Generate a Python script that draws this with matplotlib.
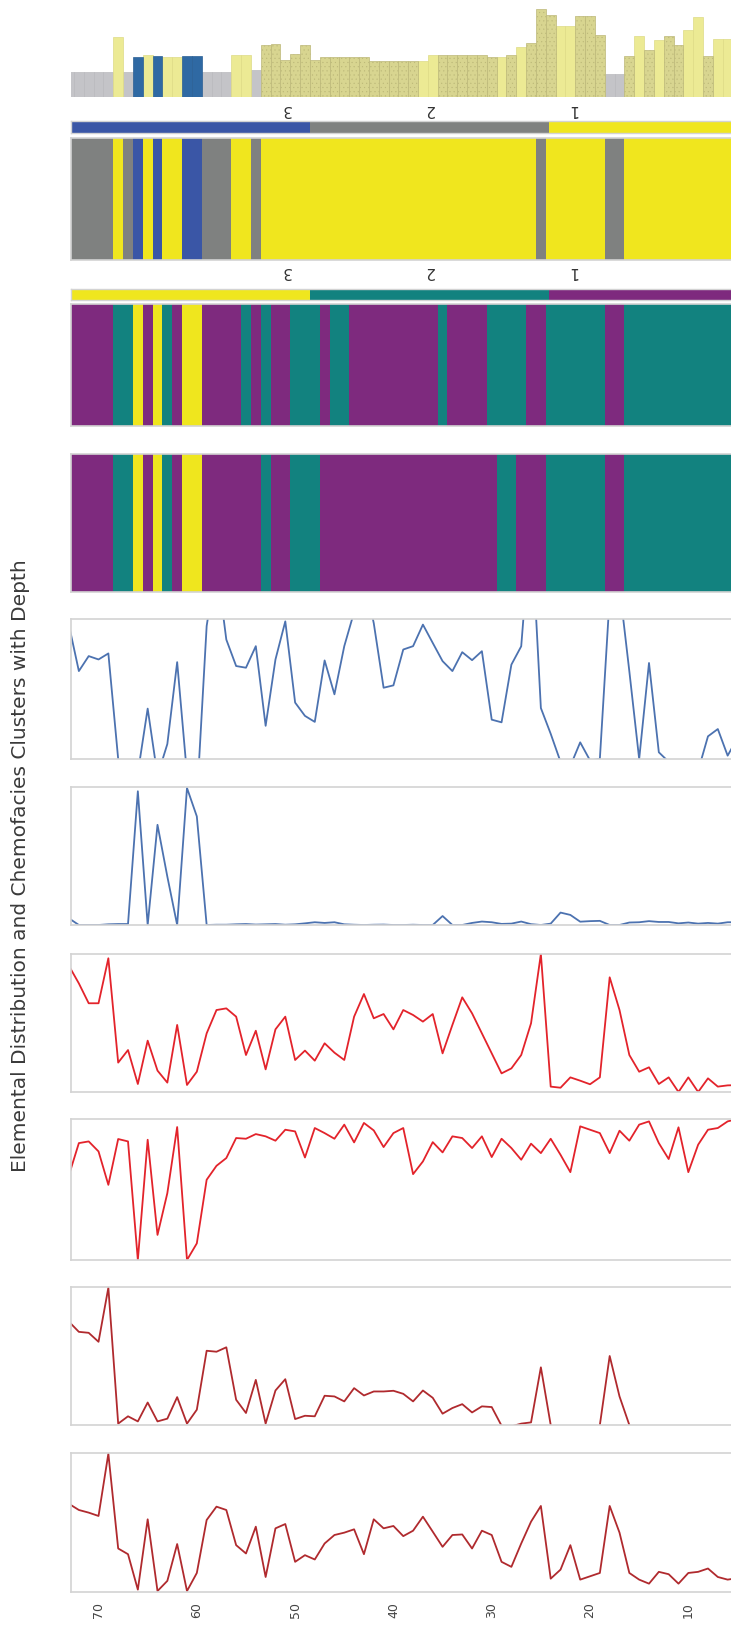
import numpy as np
import matplotlib
matplotlib.use("Agg")
import matplotlib.pyplot as plt
from matplotlib.colors import ListedColormap, Normalize

# ---------------- data (depth samples, left = deep) ----------------
depth = [73, 72, 71, 70, 69, 68, 67, 66, 65, 64, 63, 62, 61, 60, 59, 58, 57, 56, 55, 54,
         53, 52, 51, 50, 49, 48, 47, 46, 45, 44, 43, 42, 41, 40, 39, 38, 37, 36, 35, 34,
         33, 32, 31, 30, 29, 28, 27, 26, 25, 24, 23, 22, 21, 20, 19, 18, 17, 16, 15, 14,
         13, 12, 11, 10, 9, 8, 7, 6, 5]

# lithology column: type (g=grey, y=light yellow, o=olive, b=blue) and bar height
litho_type = ['g', 'g', 'g', 'g', 'g', 'y', 'g', 'b', 'y', 'b', 'y', 'y', 'b', 'b', 'g', 'g', 'g', 'y', 'y', 'g',
              'o', 'o', 'o', 'o', 'o', 'o', 'o', 'o', 'o', 'o', 'o', 'o', 'o', 'o', 'o', 'o', 'y', 'y', 'o', 'o',
              'o', 'o', 'o', 'o', 'y', 'o', 'y', 'o', 'o', 'o', 'y', 'y', 'o', 'o', 'o', 'g', 'g', 'o', 'y', 'o',
              'y', 'o', 'o', 'y', 'y', 'o', 'y', 'y', 'o']
litho_height = [25, 25, 25, 25, 25, 60, 25, 40, 42, 41, 40, 40, 41, 41, 25, 25, 25, 42, 42, 27,
                52, 53, 37, 43, 52, 37, 40, 40, 40, 40, 40, 36, 36, 36, 36, 36, 36, 42, 42, 42,
                42, 42, 42, 40, 40, 42, 50, 54, 88, 82, 71, 71, 81, 81, 62, 23, 23, 41, 61, 47,
                57, 61, 52, 67, 80, 41, 58, 58, 48]

# cluster assignments
cluster_a = [2, 2, 2, 2, 2, 1, 2, 3, 1, 3, 1, 1, 3, 3, 2, 2, 2, 1, 1, 2,
             1, 1, 1, 1, 1, 1, 1, 1, 1, 1, 1, 1, 1, 1, 1, 1, 1, 1, 1, 1,
             1, 1, 1, 1, 1, 1, 1, 1, 2, 1, 1, 1, 1, 1, 1, 2, 2, 1, 1, 1,
             1, 1, 1, 1, 1, 1, 1, 1, 1]
cluster_b = [1, 1, 1, 1, 1, 2, 2, 3, 1, 3, 2, 1, 3, 3, 1, 1, 1, 1, 2, 1,
             2, 1, 1, 2, 2, 2, 1, 2, 2, 1, 1, 1, 1, 1, 1, 1, 1, 1, 2, 1,
             1, 1, 1, 2, 2, 2, 2, 1, 1, 2, 2, 2, 2, 2, 2, 1, 1, 2, 2, 2,
             2, 2, 2, 2, 2, 2, 2, 2, 2]
cluster_c = [1, 1, 1, 1, 1, 2, 2, 3, 1, 3, 2, 1, 3, 3, 1, 1, 1, 1, 1, 1,
             2, 1, 1, 2, 2, 2, 1, 1, 1, 1, 1, 1, 1, 1, 1, 1, 1, 1, 1, 1,
             1, 1, 1, 1, 2, 2, 1, 1, 1, 2, 2, 2, 2, 2, 2, 1, 1, 2, 2, 2,
             2, 2, 2, 2, 2, 2, 2, 2, 2]
cluster_ticks = [1, 2, 3]

# element curves (normalised)
elem_1 = [0.953, 0.628, 0.735, 0.711, 0.754, 0.0, -0.3, -0.1, 0.36, -0.12, 0.107, 0.692, -0.11, -0.3, 0.95, 1.4, 0.853, 0.664, 0.652, 0.806,
          0.237, 0.711, 0.983, 0.403, 0.308, 0.265, 0.704, 0.462, 0.806, 1.05, 1.3, 0.97, 0.509, 0.526, 0.782, 0.806, 0.96, 0.829, 0.699, 0.628,
          0.763, 0.706, 0.77, 0.281, 0.262, 0.674, 0.805, 1.7, 0.364, 0.18, -0.02, -0.05, 0.119, -0.01, 0.0, 1.16, 1.23, 0.626, 0.0, 0.686,
          0.048, -0.02, -0.2, -0.2, -0.083, 0.162, 0.214, 0.024, 0.15]
elem_2 = [0.048, 0.0, 0.0, 0.0, 0.005, 0.007, 0.007, 0.969, 0.0, 0.726, 0.351, 0.0, 0.993, 0.787, 0.0, 0.002, 0.002, 0.005, 0.007, 0.003,
          0.005, 0.007, 0.002, 0.005, 0.012, 0.02, 0.015, 0.02, 0.005, 0.002, 0.0, 0.002, 0.003, 0.0, 0.0, 0.002, 0.0, 0.0, 0.065, 0.0,
          0.0, 0.015, 0.025, 0.02, 0.008, 0.01, 0.025, 0.006, 0.0, 0.01, 0.09, 0.073, 0.024, 0.028, 0.03, 0.0, 0.0, 0.018, 0.02, 0.028,
          0.022, 0.022, 0.012, 0.018, 0.01, 0.015, 0.01, 0.02, 0.02]
elem_3 = [0.913, 0.787, 0.643, 0.643, 0.969, 0.213, 0.304, 0.058, 0.372, 0.155, 0.068, 0.486, 0.051, 0.147, 0.425, 0.594, 0.606, 0.546, 0.268, 0.444,
          0.164, 0.454, 0.546, 0.232, 0.300, 0.227, 0.353, 0.285, 0.232, 0.546, 0.710, 0.534, 0.565, 0.454, 0.594, 0.558, 0.510, 0.565, 0.280, 0.486,
          0.686, 0.570, 0.425, 0.280, 0.135, 0.171, 0.268, 0.498, 1.0, 0.039, 0.031, 0.106, 0.082, 0.056, 0.106, 0.831, 0.594, 0.268, 0.147, 0.179,
          0.058, 0.106, 0.0, 0.106, 0.0, 0.099, 0.039, 0.048, 0.05]
elem_4 = [0.604, 0.829, 0.841, 0.770, 0.533, 0.858, 0.841, 0.0, 0.853, 0.178, 0.474, 0.943, 0.0, 0.118, 0.569, 0.668, 0.723, 0.865, 0.860, 0.893,
          0.877, 0.846, 0.924, 0.912, 0.727, 0.936, 0.900, 0.860, 0.960, 0.834, 0.972, 0.919, 0.801, 0.900, 0.936, 0.609, 0.699, 0.836, 0.763, 0.877,
          0.865, 0.794, 0.877, 0.730, 0.860, 0.794, 0.711, 0.825, 0.758, 0.860, 0.746, 0.623, 0.948, 0.924, 0.900, 0.758, 0.917, 0.846, 0.960, 0.983,
          0.829, 0.716, 0.941, 0.623, 0.818, 0.924, 0.936, 0.983, 1.0]
elem_5 = [0.748, 0.675, 0.668, 0.603, 0.995, 0.010, 0.063, 0.026, 0.163, 0.026, 0.046, 0.202, 0.010, 0.111, 0.538, 0.531, 0.563, 0.183, 0.087, 0.327,
          0.010, 0.250, 0.332, 0.043, 0.067, 0.063, 0.212, 0.207, 0.171, 0.267, 0.214, 0.243, 0.243, 0.248, 0.226, 0.171, 0.250, 0.197, 0.082, 0.123,
          0.151, 0.091, 0.135, 0.130, -0.005, -0.01, 0.01, 0.019, 0.418, 0.0, -0.2, -0.3, -0.3, -0.2, 0.0, 0.5, 0.207, 0.0, -0.2, -0.25,
          -0.2, -0.2, -0.25, -0.2, -0.2, -0.2, -0.25, -0.2, -0.2]
elem_6 = [0.634, 0.590, 0.571, 0.547, 0.995, 0.313, 0.272, 0.017, 0.523, 0.007, 0.080, 0.345, 0.007, 0.137, 0.518, 0.614, 0.590, 0.337, 0.277, 0.470,
          0.108, 0.458, 0.489, 0.217, 0.265, 0.234, 0.349, 0.410, 0.427, 0.451, 0.272, 0.523, 0.458, 0.475, 0.402, 0.441, 0.542, 0.434, 0.325, 0.410,
          0.414, 0.313, 0.441, 0.410, 0.217, 0.181, 0.349, 0.506, 0.619, 0.096, 0.161, 0.337, 0.089, 0.113, 0.137, 0.619, 0.427, 0.137, 0.089, 0.060,
          0.145, 0.128, 0.060, 0.137, 0.145, 0.169, 0.108, 0.089, 0.10]

depth_ticks = [70, 60, 50, 40, 30, 20, 10]
title = "Elemental Distribution and Chemofacies Clusters with Depth"

# ---------------- styling ----------------
W_PX, H_PX, DPI = 731, 1629, 100
LEFT_PX, RIGHT_PX = 71, 788
XLIM = (72.8, -0.14)
SPINE = '#d3d3d3'
plt.rcParams['font.family'] = ['DejaVu Sans']
plt.rcParams['hatch.linewidth'] = 0.3

fig = plt.figure(figsize=(W_PX / DPI, H_PX / DPI), dpi=DPI)
fig.patch.set_facecolor('white')


def add_ax(top, bottom):
    return fig.add_axes([LEFT_PX / W_PX, 1 - bottom / H_PX,
                         (RIGHT_PX - LEFT_PX) / W_PX, (bottom - top) / H_PX])


def style(ax, spines=True):
    ax.set_xticks([])
    ax.set_yticks([])
    for s in ax.spines.values():
        s.set_visible(spines)
        s.set_color(SPINE)
        s.set_linewidth(1.2)


depth_arr = np.array(depth, dtype=float)
edges = np.append(depth_arr + 0.5, depth_arr[-1] - 0.5)

# ---- lithology column ----
ax0 = add_ax(5, 97)
face = {'g': '#c4c4c8', 'y': '#ecea94', 'o': '#d8d590', 'b': '#2f69a3'}
edge = {'g': '#b9b9bd', 'y': '#dedb86', 'o': '#bcb878', 'b': '#2a5f95'}
for t in ['g', 'y', 'b', 'o']:
    idx = [i for i, v in enumerate(litho_type) if v == t]
    ax0.bar([depth[i] for i in idx], [litho_height[i] for i in idx], width=1.0,
            color=face[t], edgecolor=edge[t], linewidth=0.5,
            hatch='....' if t == 'o' else None, zorder=2)
ax0.set_xlim(XLIM)
ax0.set_ylim(0, 92)
style(ax0, spines=False)

# ---- colour keys + cluster strips ----
cmap_a = ListedColormap(['#f0e61e', '#7f8180', '#3a56a6'])
cmap_b = ListedColormap(['#7e2a7e', '#12827f', '#efe61e'])
norm = Normalize(-0.5, 4.5)
key_edges = np.linspace(-0.5, 4.5, 4)


def key(top, bottom, cmap, pad):
    ax = add_ax(top, bottom)
    ax.pcolormesh(key_edges, [0, 1], [[0.3, 2.0, 3.7]], cmap=cmap, norm=norm)
    ax.set_xlim(4.5, -0.5)
    ax.set_yticks([])
    ax.xaxis.tick_top()
    ax.set_xticks(cluster_ticks)
    ax.set_xticklabels([str(t) for t in cluster_ticks], rotation=180,
                       fontsize=11, color='#333333')
    ax.tick_params(axis='x', length=0, pad=pad)
    for s in ax.spines.values():
        s.set_color(SPINE)
        s.set_linewidth(1.0)
    return ax


def strip(top, bottom, values, cmap):
    ax = add_ax(top, bottom)
    ax.pcolormesh(edges, [0, 1], [values], cmap=cmap, norm=norm)
    ax.set_xlim(XLIM)
    ax.set_ylim(0, 1)
    style(ax)
    return ax


key(121, 133, cmap_a, 3)
strip(138, 260, cluster_a, cmap_a)
key(289, 299.5, cmap_b, 7)
strip(304, 426, cluster_b, cmap_b)
strip(454, 592, cluster_c, cmap_b)

# ---- element curves ----
curves = [(elem_1, '#4c72b0', 619, 759),
          (elem_2, '#4c72b0', 787, 925),
          (elem_3, '#e3232b', 954, 1092),
          (elem_4, '#e3232b', 1119, 1260),
          (elem_5, '#b02a2e', 1287, 1425),
          (elem_6, '#b02a2e', 1453, 1592)]
for k, (vals, col, top, bot) in enumerate(curves):
    ax = add_ax(top, bot)
    ax.plot(depth, vals, color=col, lw=1.3)
    ax.set_xlim(XLIM)
    ax.set_ylim(0, 1)
    style(ax)
    if k == len(curves) - 1:
        ax.set_xticks(depth_ticks)
        ax.set_xticklabels([str(t) for t in depth_ticks], rotation=90,
                           fontsize=9, color='#444444')
        ax.tick_params(axis='x', length=0, pad=7)

fig.text(21 / W_PX, 1 - 866 / H_PX, title, rotation=90, ha='center', va='center',
         fontsize=14.5, color='#3a3a3a')

fig.savefig('out.png', dpi=DPI, facecolor='white')
